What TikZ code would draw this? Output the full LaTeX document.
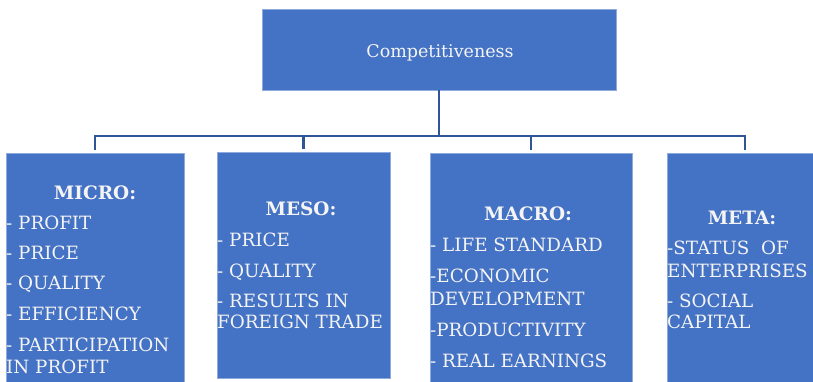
\documentclass[tikz,border=0pt]{standalone}
\usepackage{fontspec}
\setmainfont{DejaVu Serif}
\definecolor{boxfill}{HTML}{4472C4}
\definecolor{boxedge}{HTML}{8FAADC}
\definecolor{connc}{HTML}{2F5597}
\definecolor{txt}{HTML}{F4F4F4}
\begin{document}
\begin{tikzpicture}[x=1pt,y=-1pt,
  box/.style={draw=boxedge,line width=0.8pt,fill=boxfill,rectangle,inner sep=0pt},
  conn/.style={draw=connc,line width=2.4pt},
  ln/.style={anchor=base west,inner sep=0pt,text=txt,font=\fontsize{18.3}{20}\selectfont},
  hd/.style={anchor=base,inner sep=0pt,text=txt,font=\fontsize{18.5}{20}\selectfont\bfseries}]
\useasboundingbox (0,0) rectangle (813,381);
\node[box,minimum width=354pt,minimum height=81pt] (top) at (439,49.5) {};
\node[anchor=base,inner sep=0pt,text=txt,font=\fontsize{17.5}{20}\selectfont] (toptxt) at (440,57) {Competitiveness};
\node[box,minimum width=178pt,minimum height=230pt] (micro) at (95,268) {};
\node[box,minimum width=173pt,minimum height=226pt] (meso) at (303.5,265) {};
\node[box,minimum width=202pt,minimum height=230pt] (macro) at (531,268) {};
\node[box,minimum width=148pt,minimum height=230pt] (meta) at (741,268) {};
\coordinate (bus) at (439,136);
\draw[conn] (top.south) -- (bus);
\draw[conn,shorten >=3pt] (bus) -| (micro.north);
\draw[conn,shorten >=3pt] (bus) -| (meso.north);
\draw[conn,shorten >=3pt] (bus) -| (macro.north);
\draw[conn,shorten >=3pt] (bus) -| ([xshift=4pt]meta.north);
% MICRO
\node[hd] (h1) at (95,199) {MICRO:};
\node[ln] (m1) at (6,229) {- PROFIT};
\node[ln] (m2) at (6,259) {- PRICE};
\node[ln] (m3) at (6,289) {- QUALITY};
\node[ln] (m4) at (6,320) {- EFFICIENCY};
\node[ln] (m5) at (6,351) {- PARTICIPATION};
\node[ln] (m6) at (6,373) {IN PROFIT};
% MESO
\node[hd] (h2) at (301,215) {MESO:};
\node[ln] (s1) at (217,246) {- PRICE};
\node[ln] (s2) at (217,277) {- QUALITY};
\node[ln] (s3) at (217,307) {- RESULTS IN};
\node[ln] (s4) at (217,328) {FOREIGN TRADE};
% MACRO
\node[hd] (h3) at (528,220) {MACRO:};
\node[ln] (a1) at (430,251) {- LIFE STANDARD};
\node[ln] (a2) at (430,282) {-ECONOMIC};
\node[ln] (a3) at (430,305) {DEVELOPMENT};
\node[ln] (a4) at (430,336) {-PRODUCTIVITY};
\node[ln] (a5) at (430,367) {- REAL EARNINGS};
% META
\node[hd] (h4) at (742,224) {META:};
\node[ln] (t1) at (667,254) {-STATUS\ \ OF};
\node[ln] (t2) at (667,277) {ENTERPRISES};
\node[ln] (t3) at (667,307) {- SOCIAL};
\node[ln] (t4) at (667,328) {CAPITAL};
\end{tikzpicture}
\end{document}
